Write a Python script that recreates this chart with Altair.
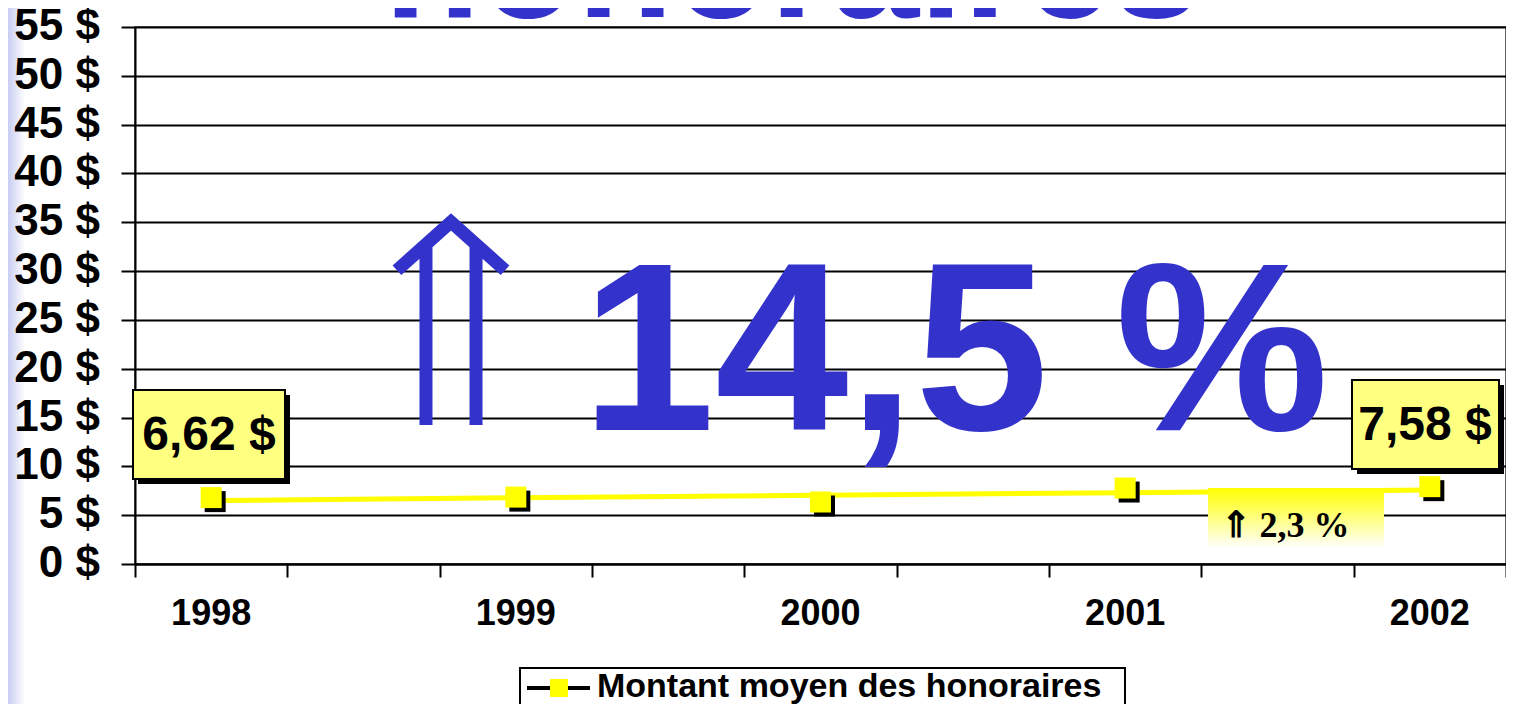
import altair as alt
import pandas as pd

# ---- data ----
years = ["1998", "1999", "2000", "2001", "2002"]
slots = [0.5, 2.5, 4.5, 6.5, 8.5]          # year positions on the 9-slot category axis
fees = [6.80, 6.85, 6.35, 7.78, 7.92]       # marker values ($)
trend = [6.50, 6.78, 7.05, 7.30, 7.58]      # yellow line values ($)
y_ticks = [0, 5, 10, 15, 20, 25, 30, 35, 40, 45, 50, 55]
y_labels = [f"{v} $" for v in y_ticks]
x_ticks = [0, 1, 2, 3, 4, 5, 6, 7, 8, 9]
callout_texts = ["6,62 $", "7,58 $"]
big_growth = ["14,5 %"]
small_growth = ["\u21d1 2,3 %"]
title_text = ["honoraires"]
legend_text = ["Montant moyen des honoraires"]

BLUE = "#3333CC"
YEL = "#FFFF00"
PALE = "#FFFF80"
FONT = "Liberation Sans"

W, H = 1371, 537

df = pd.DataFrame({"year": years, "slot": slots, "fee": fees, "trend": trend})
ydf = pd.DataFrame({"v": y_ticks, "lab": y_labels})
one = pd.DataFrame({"k": [0]})

xs = alt.Scale(domain=[0, 9], nice=False, zero=False)
ys = alt.Scale(domain=[0, 55], nice=False)

base = alt.Chart(df)

# left slide gradient strip
strip = alt.Chart(one).mark_rect(
    fill=alt.Gradient(gradient="linear", x1=0, x2=1, y1=0, y2=0,
                      stops=[alt.GradientStop(color="#C8CDF2", offset=0),
                             alt.GradientStop(color="#FFFFFF", offset=1)])
).encode(x=alt.value(-127), x2=alt.value(-110), y=alt.value(-19), y2=alt.value(680))

title = alt.Chart(pd.DataFrame({"t": title_text})).mark_text(
    font=FONT, fontWeight="bold", fontSize=158, color=BLUE, align="center", baseline="alphabetic"
).encode(x=alt.value(657), y=alt.value(-10), text="t:N")

line = base.mark_line(color=YEL, strokeWidth=5).encode(
    x=alt.X("slot:Q", scale=xs,
            axis=alt.Axis(values=x_ticks, labels=False, title=None, grid=False,
                          domainColor="black", domainWidth=2, tickColor="black",
                          tickWidth=2, tickSize=13)),
    y=alt.Y("trend:Q", scale=ys,
            axis=alt.Axis(values=y_ticks, labels=False, title=None,
                          grid=True, gridColor="black", gridWidth=2, gridOpacity=1,
                          domainColor="black", domainWidth=2, tickColor="black",
                          tickWidth=2, tickSize=14)),
)

y_text = alt.Chart(ydf).mark_text(
    font=FONT, fontWeight="bold", fontSize=44, color="black", align="right", baseline="middle"
).encode(x=alt.value(-35), y=alt.Y("v:Q", scale=ys), text="lab:N")

shadow = base.mark_square(size=441, color="black", opacity=1, xOffset=4, yOffset=4).encode(
    x=alt.X("slot:Q", scale=xs), y=alt.Y("fee:Q", scale=ys))
marker = base.mark_square(size=441, color=YEL, opacity=1).encode(
    x=alt.X("slot:Q", scale=xs), y=alt.Y("fee:Q", scale=ys))

year_labels = base.mark_text(font=FONT, fontWeight="bold", fontSize=36, color="black",
                             baseline="middle").encode(
    x=alt.X("slot:Q", scale=xs), y=alt.value(587), text="year:N")

big = alt.Chart(pd.DataFrame({"t": big_growth})).mark_text(
    font=FONT, fontWeight="bold", fontSize=240, color=BLUE, align="center", baseline="alphabetic"
).encode(x=alt.value(820), y=alt.value(403), text="t:N")

arrow_path = ("M -0.51 -0.46 L 0 -0.915 L 0.51 -0.46 "
              "M -0.236 -0.705 L -0.236 1 M 0.236 -0.705 L 0.236 1")
arrow = alt.Chart(one).mark_point(
    shape=arrow_path, size=44944, filled=False, color=BLUE, strokeWidth=13,
    strokeCap="butt", strokeJoin="miter", opacity=1
).encode(x=alt.value(316), y=alt.value(292))

# callout boxes
def box(x1, x2, y1, y2, label, tx, ty):
    sh = alt.Chart(one).mark_rect(color="black").encode(
        x=alt.value(x1 + 5), x2=alt.value(x2 + 5), y=alt.value(y1 + 5), y2=alt.value(y2 + 5))
    bx = alt.Chart(one).mark_rect(fill=PALE, stroke="black", strokeWidth=2).encode(
        x=alt.value(x1), x2=alt.value(x2), y=alt.value(y1), y2=alt.value(y2))
    tx_ = alt.Chart(pd.DataFrame({"t": [label]})).mark_text(
        font=FONT, fontWeight="bold", fontSize=48, color="black", align="center",
        baseline="middle").encode(x=alt.value(tx), y=alt.value(ty), text="t:N")
    return sh + bx + tx_

box1 = box(-2, 150, 363, 452, callout_texts[0], 74, 409)
box2 = box(1217, 1364, 353, 442, callout_texts[1], 1290, 399)

small_box = alt.Chart(one).mark_rect(
    fill=alt.Gradient(gradient="linear", x1=0, x2=0, y1=0, y2=1,
                      stops=[alt.GradientStop(color=YEL, offset=0),
                             alt.GradientStop(color="#FFFFFF", offset=1)])
).encode(x=alt.value(1073), x2=alt.value(1249), y=alt.value(461), y2=alt.value(521))
small_txt = alt.Chart(pd.DataFrame({"t": small_growth})).mark_text(
    font="Liberation Serif", fontWeight="bold", fontSize=36, color="black",
    align="center", baseline="middle").encode(x=alt.value(1150), y=alt.value(499), text="t:N")

# legend
leg_box = alt.Chart(one).mark_rect(fill="white", stroke="black", strokeWidth=2).encode(
    x=alt.value(385), x2=alt.value(990), y=alt.value(641), y2=alt.value(700))
leg_line = alt.Chart(one).mark_rule(color="black", strokeWidth=4).encode(
    x=alt.value(392), x2=alt.value(455), y=alt.value(661))
leg_sq = alt.Chart(one).mark_square(size=324, color=YEL, opacity=1).encode(
    x=alt.value(424), y=alt.value(661))
leg_txt = alt.Chart(pd.DataFrame({"t": legend_text})).mark_text(
    font=FONT, fontWeight="bold", fontSize=34, color="black", align="left",
    baseline="middle").encode(x=alt.value(462), y=alt.value(660), text="t:N")

chart = alt.layer(
    strip, title, line, y_text, shadow, marker, year_labels, big, arrow,
    box1, box2, small_box, small_txt, leg_box, leg_line, leg_sq, leg_txt
).properties(
    width=W, height=H,
    padding={"left": 127, "top": 19, "right": 0, "bottom": 140},
    autosize=alt.AutoSizeParams(type="none"),
    background="white",
).configure_view(stroke="#333333", strokeWidth=1.5)

chart.save("out.html", embed_options={"renderer": "svg", "actions": False})
